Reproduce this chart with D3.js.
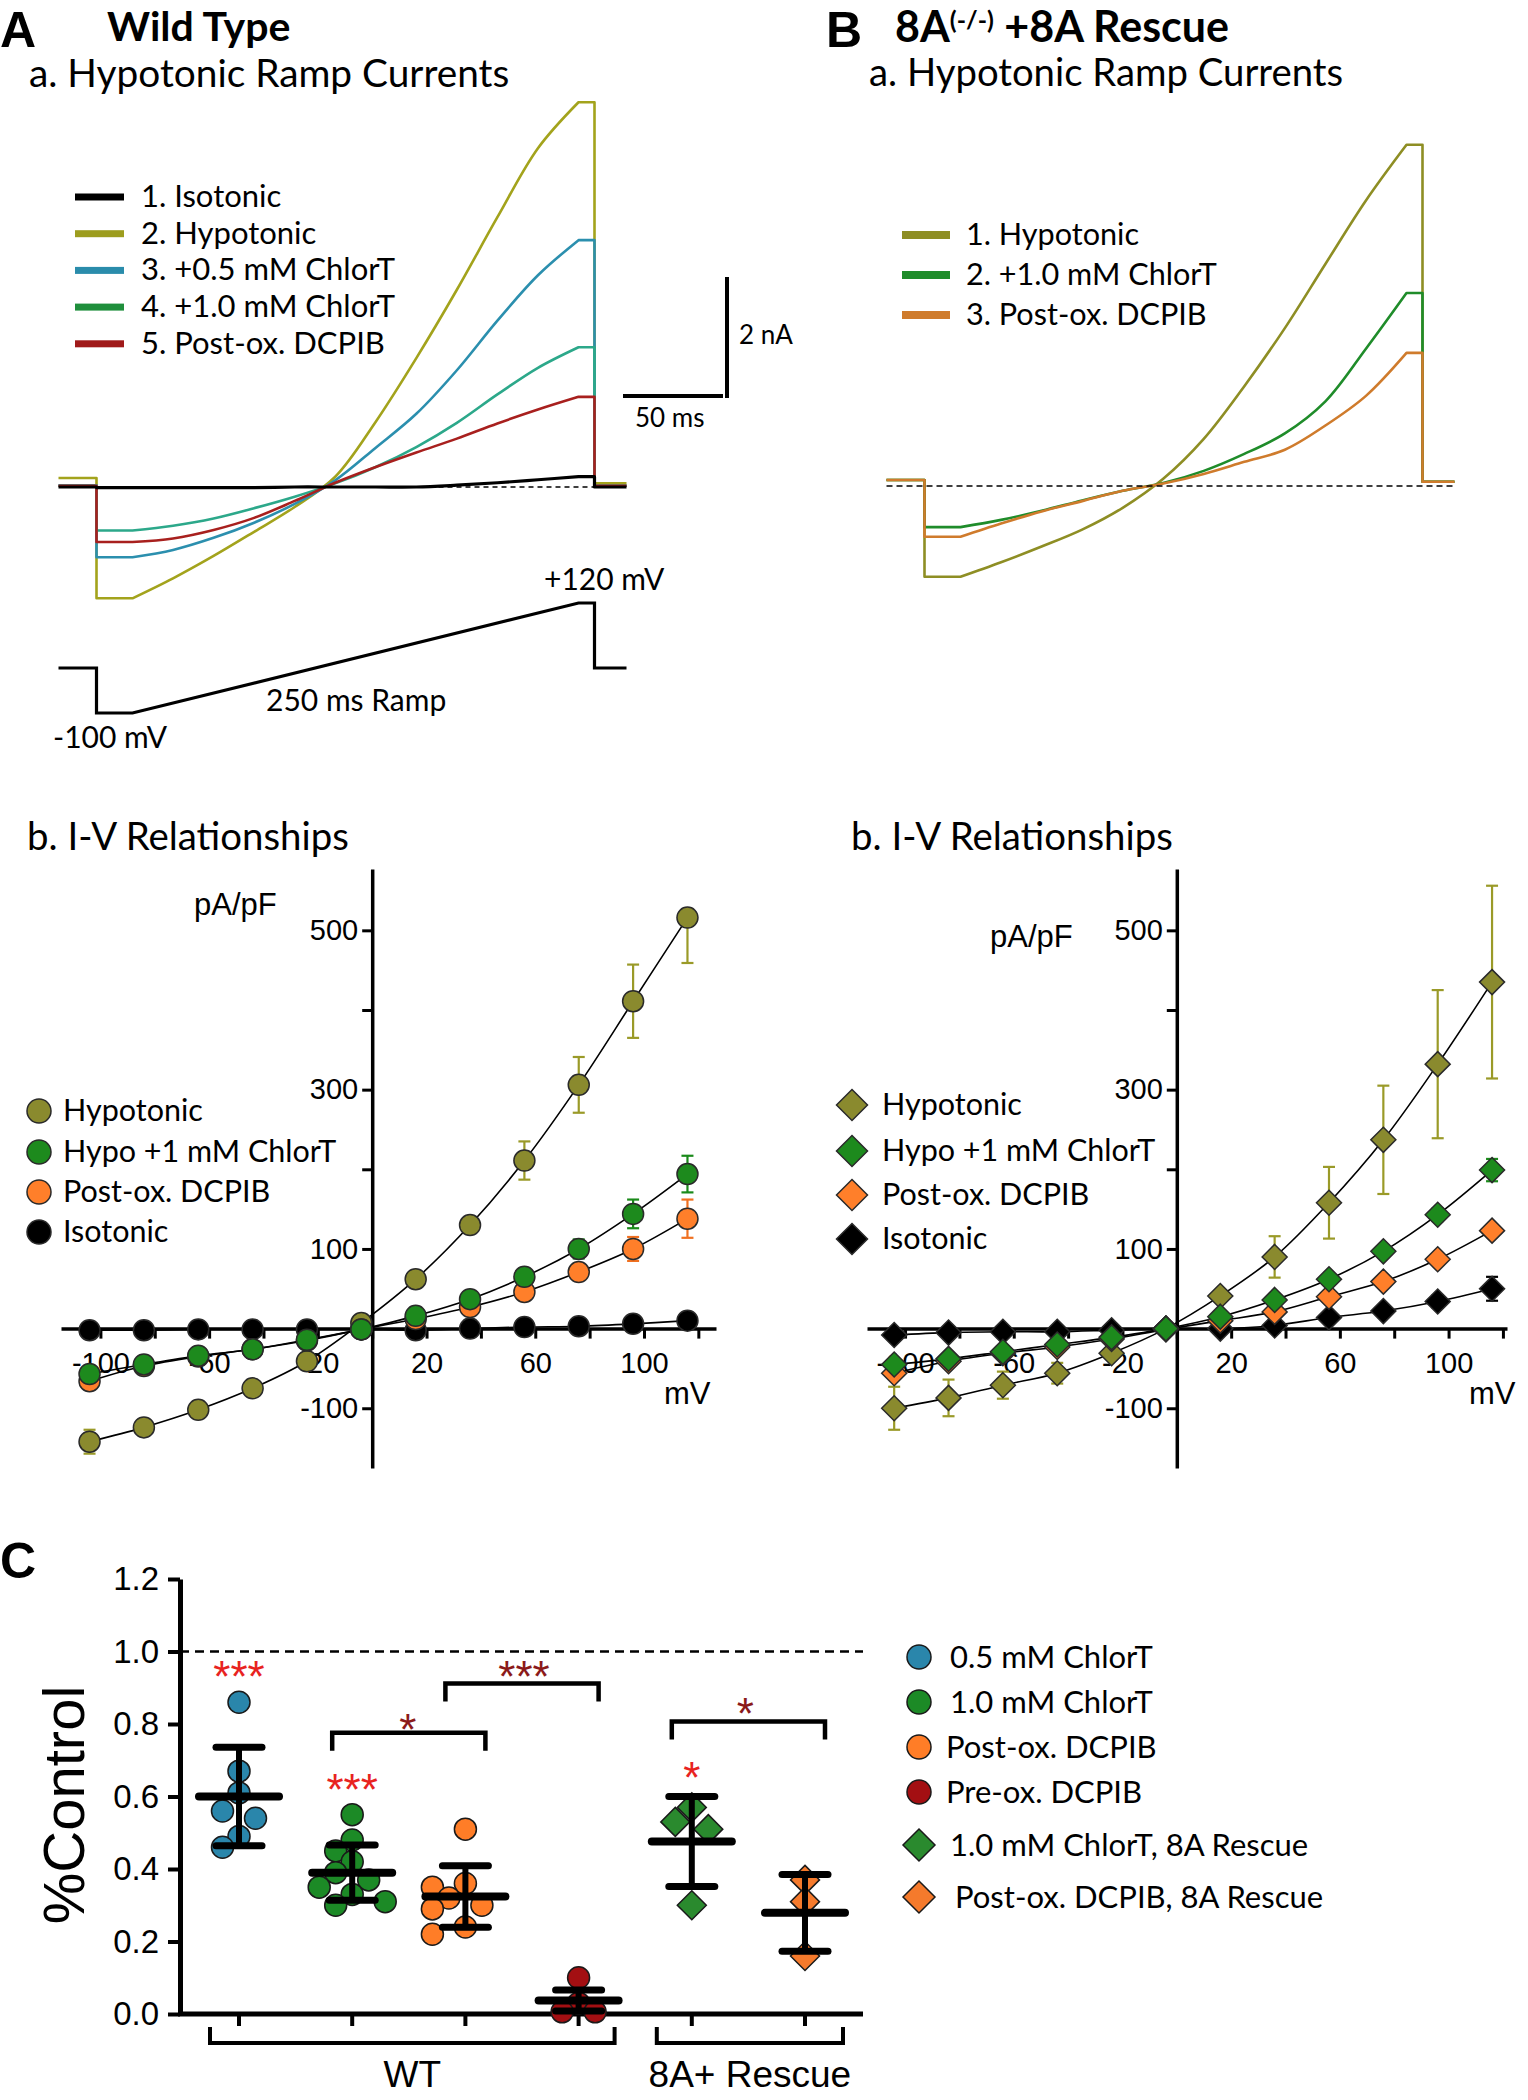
<!DOCTYPE html>
<html>
<head>
<meta charset="utf-8">
<script src="https://cdn.jsdelivr.net/npm/d3@7/dist/d3.min.js"></script>
<style>
html,body{margin:0;padding:0;background:#fff;}
svg{display:block;}
</style>
</head>
<body>
<svg id="fig" width="1528" height="2100" xmlns="http://www.w3.org/2000/svg"></svg>
<script>
// ======================= DATA =======================
// Ramp current traces (nA) sampled at ramp voltages (mV)
const rampVoltages = [-100, -80, -60, -40, -20, 0, 20, 40, 60, 80, 100, 120];
const wtTraceIsotonic  = [-0.01,-0.01,-0.01,-0.01,0.00,0.00,0.00,0.00,0.03,0.07,0.12,0.17];
const wtTraceHypotonic = [-1.84,-1.51,-1.14,-0.74,-0.33,0.17,1.08,2.13,3.26,4.46,5.60,6.36];
const wtTraceChlorT05  = [-1.16,-1.04,-0.84,-0.59,-0.28,0.11,0.65,1.21,1.93,2.75,3.50,4.08];
const wtTraceChlorT10  = [-0.72,-0.64,-0.52,-0.35,-0.16,0.06,0.33,0.66,1.06,1.53,1.97,2.31];
const wtTraceDCPIB     = [-0.91,-0.85,-0.71,-0.51,-0.23,0.07,0.33,0.57,0.80,1.05,1.28,1.49];
const wtHoldingBefore  = [0.00, 0.15, 0.03, 0.02, 0.02];
const wtHoldingAfter   = [0.00, 0.06, 0.02, 0.02, 0.02];
const wtTraceLabels = ['1. Isotonic','2. Hypotonic','3. +0.5 mM ChlorT','4. +1.0 mM ChlorT','5. Post-ox. DCPIB'];

const koTraceHypotonic = [-1.50,-1.26,-1.00,-0.72,-0.36,0.12,0.78,1.65,2.61,3.67,4.72,5.64];
const koTraceChlorT10  = [-0.68,-0.56,-0.41,-0.24,-0.08,0.05,0.25,0.53,0.87,1.40,2.27,3.19];
const koTraceDCPIB     = [-0.84,-0.62,-0.42,-0.25,-0.08,0.04,0.20,0.40,0.60,1.00,1.49,2.20];
const koHoldingBefore  = [0.10, 0.10, 0.10];
const koHoldingAfter   = [0.07, 0.07, 0.07];
const koTraceLabels = ['1. Hypotonic','2. +1.0 mM ChlorT','3. Post-ox. DCPIB'];

// Voltage protocol: times (ms) start, step, ramp start, ramp end, step back, end; voltages (mV)
const protocolTimes = [-19, 0, 18, 241, 249, 265];
const protocolHolding = -10, protocolLow = -100, protocolHigh = 120;
const rampDurationMs = 250;

// I-V relationships (pA/pF)
const ivVoltages = [-104, -84, -64, -44, -24, -4, 16, 36, 56, 76, 96, 116];
const ivXTicks = [-100, -80, -60, -40, -20, 0, 20, 40, 60, 80, 100, 120];
const ivXLabels = [-100, -60, -20, 20, 60, 100];
const ivYTicks = [-100, 0, 100, 200, 300, 400, 500];
const ivYLabels = [-100, 100, 300, 500];
const ivSeriesNames = ['Hypotonic', 'Hypo +1 mM ChlorT', 'Post-ox. DCPIB', 'Isotonic'];

const wtIvHypo       = [-142,-124,-102,-75,-41,7,62,130,211,306,411,516];
const wtIvHypoErr    = [15,10,5,4,3,2,3,8,24,35,46,57];
const wtIvChlorT     = [-57,-45,-34,-26,-14,-1,16,37,65,100,144,194];
const wtIvChlorTErr  = [4,3,3,2,2,1,2,3,5,12,18,23];
const wtIvDCPIB      = [-66,-47,-35,-26,-15,-1,12,27,46,71,100,138];
const wtIvDCPIBErr   = [5,4,3,2,2,1,2,3,4,8,15,24];
const wtIvIso        = [-2,-2,-1,-1,-1,-1,-2,0,2,3,6,10];
const wtIvIsoErr     = [1,1,1,1,1,1,1,1,1,2,2,3];

const koIvHypo       = [-100,-87,-71,-56,-31,0,41,90,158,237,332,435];
const koIvHypoErr    = [27,23,17,13,6,2,4,26,45,68,93,121];
const koIvChlorT     = [-45,-38,-29,-20,-11,0,15,36,62,97,143,199];
const koIvChlorTErr  = [3,3,2,2,2,1,2,3,4,5,8,14];
const koIvDCPIB      = [-56,-41,-31,-23,-13,-1,10,21,40,59,87,123];
const koIvDCPIBErr   = [4,3,3,2,2,1,2,3,4,5,6,8];
const koIvIso        = [-8,-5,-4,-4,-2,0,0,4,14,22,34,50];
const koIvIsoErr     = [2,2,1,1,1,1,1,2,3,4,8,15];

// Panel C: fraction of control
const cGroupNames = ['0.5 mM ChlorT','1.0 mM ChlorT','Post-ox. DCPIB','Pre-ox. DCPIB','1.0 mM ChlorT, 8A Rescue','Post-ox. DCPIB, 8A Rescue'];
const cChlorT05      = [0.86,0.67,0.61,0.56,0.54,0.49,0.46];
const cChlorT10      = [0.55,0.48,0.45,0.42,0.39,0.37,0.35,0.33,0.31,0.30];
const cPostDCPIB     = [0.51,0.36,0.35,0.32,0.30,0.29,0.24,0.22];
const cPreDCPIB      = [0.10,0.03,0.006,0.006];
const cRescueChlorT  = [0.57,0.53,0.51,0.30];
const cRescueDCPIB   = [0.37,0.31,0.16];
const cMeans = [0.600, 0.390, 0.324, 0.037, 0.476, 0.279];
const cSDs   = [0.136, 0.076, 0.085, 0.029, 0.124, 0.106];
const cYTicks = [0, 0.2, 0.4, 0.6, 0.8, 1.0, 1.2];
const cControlLevel = 1.0;
const cGroupLabels = ['WT', '8A+ Rescue'];

// ======================= STYLE =======================
const CAL = "Lato, 'Noto Sans', sans-serif";
const ARI = "'Liberation Sans', Arial, sans-serif";
const wtTraceColors  = ['#000000','#a3a31c','#2b8fae','#2ca88a','#a8201e'];
const wtLegendColors = ['#000000','#9d9d1e','#2a8cab','#1f8f3c','#a01a1a'];
const koTraceColors  = ['#8e8e24','#1f8c2a','#cf7b2c'];
const ivFill   = ['#8a8a2e','#1d8a1d','#ff7f2a','#000000'];
const ivErrCol = ['#9a9a28','#1a8a1a','#f07020','#000000'];
const cFill = ['#2a86ab','#1c8a26','#ff7d27','#a30f12','#2a8a2e','#f57a2c'];

const svg = d3.select('#fig');
svg.append('rect').attr('width', 1528).attr('height', 2100).attr('fill', '#fff');

function label(x, y, s, size, o = {}) {
  const t = svg.append('text').attr('x', x).attr('y', y)
    .attr('font-family', o.family || CAL).attr('font-size', size)
    .attr('fill', o.fill || '#000').attr('text-anchor', o.anchor || 'start')
    .attr('font-weight', o.weight || 'normal').text(s);
  if (o.rotate) t.attr('transform', `rotate(${o.rotate},${x},${y})`);
  if (o.ls !== undefined) t.attr('letter-spacing', o.ls);
  return t;
}
function diamondPath(cx, cy, h) {
  return `M${cx},${cy - h}L${cx + h},${cy}L${cx},${cy + h}L${cx - h},${cy}Z`;
}

// ======================= TITLES =======================
label(0, 47, 'A', 50, {weight: 'bold', family: ARI});
label(107, 41, 'Wild Type', 41, {weight: 'bold'});
label(29, 87, 'a. Hypotonic Ramp Currents', 38.8);

label(826, 47, 'B', 50, {weight: 'bold', family: ARI});
const bt = label(895, 42, '', 43, {weight: 'bold'});
bt.append('tspan').text('8A');
bt.append('tspan').attr('font-size', 25).attr('dy', -13).text('(-/-)');
bt.append('tspan').attr('dy', 13).text(' +8A Rescue');
label(869, 86, 'a. Hypotonic Ramp Currents', 38.3);

// ======================= RAMP TRACES =======================
function traceParts(vals, before, after) {
  const [t0, tStep, tR0, tR1, tBack, tEnd] = protocolTimes;
  const first = vals[0], last = vals[vals.length - 1];
  const pre = [[t0, before], [tStep, before], [tStep, first], [tR0, first]];
  const ramp = rampVoltages.map((v, i) => [tR0 + (v - protocolLow) / (protocolHigh - protocolLow) * (tR1 - tR0), vals[i]]);
  const post = [[tR1, last], [tBack, last], [tBack, after], [tEnd, after]];
  return {pre, ramp, post};
}
function drawTrace(xs, ys, vals, before, after, color, w) {
  const p = traceParts(vals, before, after);
  const lin = d3.line().x(d => xs(d[0])).y(d => ys(d[1]));
  const smooth = d3.line().x(d => xs(d[0])).y(d => ys(d[1])).curve(d3.curveCatmullRom.alpha(0.5));
  const d = lin(p.pre) + smooth(p.ramp).replace(/^M/, 'L') + lin(p.post).replace(/^M/, 'L');
  svg.append('path').attr('d', d).attr('fill', 'none').attr('stroke', color)
    .attr('stroke-width', w).attr('stroke-linejoin', 'round');
}

// Panel A
const tA = d3.scaleLinear().domain([0, 100]).range([96.5, 296.5]);
const iA = d3.scaleLinear().domain([0, 2]).range([487, 366]);
svg.append('line').attr('x1', tA(protocolTimes[2])).attr('x2', tA(protocolTimes[4]))
  .attr('y1', iA(0)).attr('y2', iA(0)).attr('stroke', '#000').attr('stroke-width', 1.3)
  .attr('stroke-dasharray', '5,4');
const wtTraces = [wtTraceIsotonic, wtTraceHypotonic, wtTraceChlorT05, wtTraceChlorT10, wtTraceDCPIB];
[1, 2, 3, 4, 0].forEach(k => drawTrace(tA, iA, wtTraces[k], wtHoldingBefore[k], wtHoldingAfter[k], wtTraceColors[k], k === 0 ? 3.2 : 2.6));

wtTraceLabels.forEach((s, k) => {
  const yy = 197 + k * 36.7;
  svg.append('rect').attr('x', 75).attr('y', yy - 3.5).attr('width', 49).attr('height', 7).attr('fill', wtLegendColors[k]);
  label(141, yy + 10, s, 31);
});

// scale bars (2 nA, 50 ms)
const sbX = 727, sbBottom = 398;
svg.append('line').attr('x1', sbX).attr('x2', sbX).attr('y1', sbBottom - (iA(0) - iA(2))).attr('y2', sbBottom)
  .attr('stroke', '#000').attr('stroke-width', 4);
svg.append('line').attr('x1', sbX - 4 - (tA(50) - tA(0))).attr('x2', sbX - 4).attr('y1', 396).attr('y2', 396)
  .attr('stroke', '#000').attr('stroke-width', 4);
label(739, 344, '2 nA', 26);
label(635, 427, '50 ms', 26);

// voltage protocol
const vA = d3.scaleLinear().domain([protocolLow, protocolHigh]).range([713, 603]);
{
  const [t0, tStep, tR0, tR1, tBack, tEnd] = protocolTimes;
  const pts = [[t0, protocolHolding], [tStep, protocolHolding], [tStep, protocolLow], [tR0, protocolLow],
               [tR1, protocolHigh], [tBack, protocolHigh], [tBack, protocolHolding], [tEnd, protocolHolding]];
  svg.append('path').attr('d', d3.line().x(d => tA(d[0])).y(d => vA(d[1]))(pts))
    .attr('fill', 'none').attr('stroke', '#000').attr('stroke-width', 3.2);
}
label(544, 590, '+' + protocolHigh + ' mV', 30);
label(266, 711, rampDurationMs + ' ms Ramp', 30);
label(53, 748, protocolLow + ' mV', 30);

// Panel B
const tB = d3.scaleLinear().domain([0, 100]).range([924.5, 1124.5]);
const iB = d3.scaleLinear().domain([0, 2]).range([486, 365]);
const koTraces = [koTraceHypotonic, koTraceChlorT10, koTraceDCPIB];
[0, 1, 2].forEach(k => drawTrace(tB, iB, koTraces[k], koHoldingBefore[k], koHoldingAfter[k], koTraceColors[k], 2.6));
svg.append('line').attr('x1', tB(protocolTimes[0])).attr('x2', tB(protocolTimes[5]))
  .attr('y1', iB(0)).attr('y2', iB(0)).attr('stroke', '#000').attr('stroke-width', 1.5)
  .attr('stroke-dasharray', '6,4');
koTraceLabels.forEach((s, k) => {
  const yy = 235 + k * 40;
  svg.append('rect').attr('x', 902).attr('y', yy - 4).attr('width', 48).attr('height', 8).attr('fill', koTraceColors[k]);
  label(966, yy + 10, s, 30.6);
});

// ======================= I-V PANELS =======================
function ivPanel(cfg) {
  const x = d3.scaleLinear().domain(cfg.xDomain).range(cfg.xRange);
  const y = d3.scaleLinear().domain([-175, 577]).range([1468, 869]);
  label(cfg.titleX, 850, 'b. I-V Relationships', 38.4);

  const gx = svg.append('g').attr('transform', `translate(0,${y(0)})`)
    .call(d3.axisBottom(x).tickValues(ivXTicks).tickSize(10).tickSizeOuter(0).tickPadding(14)
      .tickFormat(d => ivXLabels.includes(d) ? d : ''));
  const gy = svg.append('g').attr('transform', `translate(${x(0)},0)`)
    .call(d3.axisLeft(y).tickValues(ivYTicks).tickSize(10).tickSizeOuter(0).tickPadding(4)
      .tickFormat(d => ivYLabels.includes(d) ? d : ''));
  [gx, gy].forEach(g => {
    g.select('.domain').attr('stroke-width', 3.5).attr('stroke', '#000');
    g.selectAll('.tick line').attr('stroke-width', 3).attr('stroke', '#000');
    g.selectAll('.tick text').attr('font-family', ARI).attr('font-size', 29).attr('fill', '#000');
  });
  label(cfg.pAx, cfg.pAy, 'pA/pF', 31, {family: ARI});
  label(cfg.mVx, 1404, 'mV', 31, {family: ARI});

  const series = cfg.series; // order: hypo, chlorT, dcpib, iso
  const line = d3.line().x((d, i) => x(ivVoltages[i])).y(d => y(d)).curve(d3.curveCatmullRom.alpha(0.5));
  series.forEach(s => svg.append('path').attr('d', line(s.vals)).attr('fill', 'none')
    .attr('stroke', '#000').attr('stroke-width', 1.6));
  const drawOrder = [3, 0, 2, 1];
  drawOrder.forEach(k => {
    const s = series[k];
    s.vals.forEach((v, i) => {
      const e = s.err[i];
      if (e < 4) return;
      const cx = x(ivVoltages[i]);
      const hiOK = !(s.noUpper && s.noUpper.includes(i));
      const y1 = hiOK ? y(v + e) : y(v);
      svg.append('line').attr('x1', cx).attr('x2', cx).attr('y1', y1).attr('y2', y(v - e))
        .attr('stroke', ivErrCol[k]).attr('stroke-width', 2.2);
      if (hiOK) svg.append('line').attr('x1', cx - 6).attr('x2', cx + 6).attr('y1', y(v + e)).attr('y2', y(v + e))
        .attr('stroke', ivErrCol[k]).attr('stroke-width', 2.2);
      svg.append('line').attr('x1', cx - 6).attr('x2', cx + 6).attr('y1', y(v - e)).attr('y2', y(v - e))
        .attr('stroke', ivErrCol[k]).attr('stroke-width', 2.2);
    });
  });
  drawOrder.forEach(k => {
    const s = series[k];
    s.vals.forEach((v, i) => {
      const cx = x(ivVoltages[i]), cy = y(v);
      if (cfg.shape === 'circle') {
        svg.append('circle').attr('cx', cx).attr('cy', cy).attr('r', 10.5)
          .attr('fill', ivFill[k]).attr('stroke', '#2a2a2a').attr('stroke-width', 1.5);
      } else {
        svg.append('path').attr('d', diamondPath(cx, cy, 12.5))
          .attr('fill', ivFill[k]).attr('stroke', '#2a2a2a').attr('stroke-width', 1.5);
      }
    });
  });
  ivSeriesNames.forEach((nm, k) => {
    const ly = cfg.legY[k];
    if (cfg.shape === 'circle') {
      svg.append('circle').attr('cx', cfg.legX).attr('cy', ly).attr('r', 12)
        .attr('fill', ivFill[k]).attr('stroke', '#2a2a2a').attr('stroke-width', 1.5);
    } else {
      svg.append('path').attr('d', diamondPath(cfg.legX, ly, 15.5))
        .attr('fill', ivFill[k]).attr('stroke', '#2a2a2a').attr('stroke-width', 1.5);
    }
    label(cfg.legTextX, ly + 10, nm, 30.5);
  });
}

ivPanel({
  xDomain: [-114.5, 126.5], xRange: [61, 716], titleX: 27,
  pAx: 194, pAy: 915, mVx: 664, shape: 'circle',
  legX: 39, legTextX: 63, legY: [1111, 1152, 1192, 1232],
  series: [
    {vals: wtIvHypo, err: wtIvHypoErr, noUpper: [11]},
    {vals: wtIvChlorT, err: wtIvChlorTErr},
    {vals: wtIvDCPIB, err: wtIvDCPIBErr},
    {vals: wtIvIso, err: wtIvIsoErr}
  ]
});
ivPanel({
  xDomain: [-114, 121.5], xRange: [867, 1507], titleX: 851,
  pAx: 990, pAy: 947, mVx: 1469, shape: 'diamond',
  legX: 852, legTextX: 882, legY: [1105, 1151, 1195, 1239],
  series: [
    {vals: koIvHypo, err: koIvHypoErr},
    {vals: koIvChlorT, err: koIvChlorTErr},
    {vals: koIvDCPIB, err: koIvDCPIBErr},
    {vals: koIvIso, err: koIvIsoErr}
  ]
});

// ======================= PANEL C =======================
label(0, 1578, 'C', 50, {weight: 'bold', family: ARI});
const yC = d3.scaleLinear().domain([0, 1.2]).range([2014, 1579]);
const xC = d3.scalePoint().domain(d3.range(cGroupNames.length)).range([239, 805]);
const axX0 = 180, axX1 = 863;

svg.append('line').attr('x1', axX0).attr('x2', axX1).attr('y1', yC(cControlLevel)).attr('y2', yC(cControlLevel))
  .attr('stroke', '#000').attr('stroke-width', 2.5).attr('stroke-dasharray', '9,6');

const gyC = svg.append('g').attr('transform', `translate(${axX0},0)`)
  .call(d3.axisLeft(yC).tickValues(cYTicks).tickSize(12).tickSizeOuter(0).tickPadding(9).tickFormat(d3.format('.1f')));
gyC.select('.domain').attr('stroke-width', 5).attr('stroke', '#000');
gyC.selectAll('.tick line').attr('stroke-width', 4).attr('stroke', '#000');
gyC.selectAll('.tick text').attr('font-family', ARI).attr('font-size', 33).attr('fill', '#000');
svg.append('line').attr('x1', axX0 - 2).attr('x2', axX1).attr('y1', yC(0)).attr('y2', yC(0))
  .attr('stroke', '#000').attr('stroke-width', 5);
xC.domain().forEach(k => {
  svg.append('line').attr('x1', xC(k)).attr('x2', xC(k)).attr('y1', yC(0)).attr('y2', yC(0) + 12)
    .attr('stroke', '#000').attr('stroke-width', 4);
});
label(84, 1805, '%Control', 58, {family: ARI, anchor: 'middle', rotate: -90});

function underBracket(x1, x2, txt) {
  svg.append('path').attr('d', `M${x1},2027V2043H${x2}V2027`).attr('fill', 'none')
    .attr('stroke', '#000').attr('stroke-width', 4);
  label((x1 + x2) / 2, 2087, txt, 37, {family: ARI, anchor: 'middle'});
}
underBracket(xC(0) - 29, xC(3) + 36, cGroupLabels[0]);
underBracket(xC(4) - 35, xC(5) + 38, cGroupLabels[1]);

function swarm(values, cx, r) {
  const placed = [];
  const order = values.map((v, i) => i).sort((a, b) => values[b] - values[a]);
  const step = r * 1.5, minD = r * 1.65;
  order.forEach(i => {
    const py = yC(values[i]);
    for (const k of [0, -1, 1, -2, 2, -3, 3]) {
      const px = cx + k * step;
      if (placed.every(p => Math.hypot(p.x - px, p.y - py) >= minD)) { placed.push({x: px, y: py}); break; }
    }
  });
  return placed;
}
const cData = [cChlorT05, cChlorT10, cPostDCPIB, cPreDCPIB, cRescueChlorT, cRescueDCPIB];
cData.forEach((vals, k) => {
  const isDiamond = k >= 4;
  swarm(vals, xC(k), 11).forEach(p => {
    if (isDiamond) {
      svg.append('path').attr('d', diamondPath(p.x, p.y, 14.5)).attr('fill', cFill[k])
        .attr('stroke', '#1a1a1a').attr('stroke-width', 1.5);
    } else {
      svg.append('circle').attr('cx', p.x).attr('cy', p.y).attr('r', 11).attr('fill', cFill[k])
        .attr('stroke', '#1a1a1a').attr('stroke-width', 1.5);
    }
  });
});
cMeans.forEach((m, k) => {
  const cx = xC(k), sd = cSDs[k];
  svg.append('line').attr('x1', cx).attr('x2', cx).attr('y1', yC(m + sd)).attr('y2', yC(Math.max(0, m - sd)))
    .attr('stroke', '#000').attr('stroke-width', 6);
  [m + sd, m - sd].forEach(v => svg.append('line').attr('x1', cx - 23).attr('x2', cx + 23)
    .attr('y1', yC(v)).attr('y2', yC(v)).attr('stroke', '#000').attr('stroke-width', 7).attr('stroke-linecap', 'round'));
  svg.append('line').attr('x1', cx - 40).attr('x2', cx + 40).attr('y1', yC(m)).attr('y2', yC(m))
    .attr('stroke', '#000').attr('stroke-width', 8).attr('stroke-linecap', 'round');
});

function stars(cx, val, s, color) {
  label(cx, yC(val) + 25, s, 44, {family: ARI, anchor: 'middle', fill: color});
}
function sigBracket(k1, k2, val, drop) {
  const x1 = xC(k1) - 20, x2 = xC(k2) + 20;
  svg.append('path').attr('d', `M${x1},${yC(val) + drop}V${yC(val)}H${x2}V${yC(val) + drop}`)
    .attr('fill', 'none').attr('stroke', '#000').attr('stroke-width', 4.5);
}
stars(xC(0), 0.958, '***', '#e8231f');
stars(xC(1), 0.646, '***', '#e8231f');
stars(xC(4), 0.68, '*', '#e8231f');
sigBracket(1, 2, 0.776, 18); stars((xC(1) + xC(2)) / 2 - 1, 0.812, '*', '#8b1a1a');
sigBracket(2, 3, 0.912, 18); stars((xC(2) + xC(3)) / 2 + 2, 0.958, '***', '#8b1a1a');
sigBracket(4, 5, 0.807, 18); stars((xC(4) + xC(5)) / 2 - 3, 0.854, '*', '#8b1a1a');

const cLegY = [1657, 1702, 1747, 1792, 1845, 1897];
const cLegTX = [950, 950, 946, 946, 950, 955];
cGroupNames.forEach((nm, k) => {
  if (k >= 4) {
    svg.append('path').attr('d', diamondPath(919, cLegY[k], 16)).attr('fill', cFill[k])
      .attr('stroke', '#1a1a1a').attr('stroke-width', 1.5);
  } else {
    svg.append('circle').attr('cx', 919).attr('cy', cLegY[k]).attr('r', 12).attr('fill', cFill[k])
      .attr('stroke', '#1a1a1a').attr('stroke-width', 1.5);
  }
  label(cLegTX[k], cLegY[k] + 11, nm, 31);
});
</script>
</body>
</html>
